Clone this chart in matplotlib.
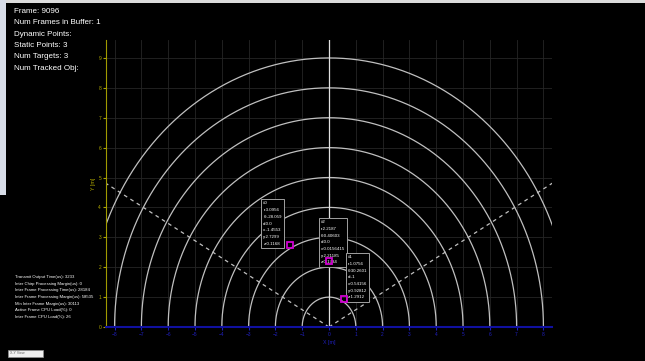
import numpy as np
import matplotlib.pyplot as plt
from matplotlib.patches import Rectangle

W, H = 645, 361

# ranges of the arcs (m) and field-of-view edges (deg)
ranges = [1, 2, 3, 4, 5, 6, 7, 8, 9]
fov_angles = [30, 150]

# tracked targets
target_ids = ["#0", "#2", "#1"]
target_x = [-1.4553, 0.0156415, 0.54156]
target_y = [2.7299, 2.21185, 0.92812]
target_text = [
    "#0\nr:3.0956\nθ:-28.059\nd:0.0\nx:-1.4553\ny:2.7299\nz:0.1168",
    "#2\nr:2.2187\nθ:0.40603\nd:0.0\nx:0.0156415\ny:2.21185\nz:0.1734",
    "#1\nr:1.0756\nθ:30.2601\nd:-1\nx:0.54156\ny:0.92812\nz:1.2912",
]
# upper-left corner of each label box (data coords)
label_pos = [(-2.45, 4.2), (-0.3, 3.57), (0.7, 2.4)]

header_lines = ["Frame: 9096", "Num Frames in Buffer: 1", "Dynamic Points:",
                "Static Points: 3", "Num Targets: 3", "Num Tracked Obj:"]
stats_lines = ["Transmit Output Time(us): 3233",
               "Inter Chirp Processing Margin(us): 0",
               "Inter Frame Processing Time(us): 28184",
               "Inter Frame Processing Margin(us): 58535",
               "Min Inter Frame Margin(us): 30113",
               "Active Frame CPU Load(%): 0",
               "Inter Frame CPU Load(%): 26"]

x_ticks = list(range(-8, 9))
y_ticks = list(range(0, 10))

plt.rcParams['font.family'] = ['Liberation Sans', 'DejaVu Sans']

fig = plt.figure(figsize=(W / 100, H / 100), dpi=100, facecolor="black")

# window chrome: top strip and left strip
fig.patches.append(Rectangle((0, 1 - 3 / H), 1, 3 / H, transform=fig.transFigure,
                             facecolor="#dcdcdc", edgecolor="none", zorder=0))
fig.patches.append(Rectangle((0, 1 - 195 / H), 6 / W, 195 / H, transform=fig.transFigure,
                             facecolor="#d8dde8", edgecolor="none", zorder=0))

ax = fig.add_axes([106 / W, 1 - 327 / H, 446 / W, 287 / H])
ax.set_facecolor("black")
ax.set_xlim(-8.32, 8.32)
ax.set_ylim(0, 9.6)

# grid
for gx in x_ticks:
    ax.axvline(gx, color="#262626", lw=0.6, zorder=1)
for gy in y_ticks[1:]:
    ax.axhline(gy, color="#262626", lw=0.6, zorder=1)

# range arcs
t = np.linspace(0, np.pi, 400)
for r in ranges:
    ax.plot(r * np.cos(t), r * np.sin(t), color="#c0c0c0", lw=0.9, zorder=2)

# boresight and FOV lines
ax.plot([0, 0], [0, 9.6], color="#e0e0e0", lw=0.9, zorder=2)
for a in fov_angles:
    ax.plot([0, 12 * np.cos(np.radians(a))], [0, 12 * np.sin(np.radians(a))],
            color="#c0c0c0", lw=0.9, ls=(0, (3, 3)), zorder=2)

# targets
ax.plot(target_x, target_y, "s", ms=5, mfc="none", mec="#d000d0", mew=1.3, zorder=4)
for txt, (lx, ly) in zip(target_text, label_pos):
    ax.text(lx, ly, txt, color="white", fontsize=3.2, va="top", ha="left",
            linespacing=1.9, zorder=3,
            bbox=dict(boxstyle="square,pad=0.5", fc="black", ec="#a0a0a0", lw=0.7))

# axes styling
for s in ["top", "right"]:
    ax.spines[s].set_visible(False)
ax.spines["left"].set_color("#a09a00")
ax.spines["bottom"].set_color("#1010a0")
ax.spines["bottom"].set_linewidth(1.5)
ax.spines["bottom"].set_zorder(5)
ax.set_xticks(x_ticks)
ax.set_yticks(y_ticks)
ax.tick_params(axis="x", colors="#2020c0", labelsize=3.5, length=2, pad=1.5)
ax.tick_params(axis="y", colors="#b0a800", labelsize=3.5, length=2, pad=1.5)
ax.set_xlabel("X [m]", color="#2020c0", fontsize=3.8, labelpad=2)
ax.set_ylabel("Y [m]", color="#b0a800", fontsize=3.8, labelpad=2)

# overlay text
for i, line in enumerate(header_lines):
    fig.text(14 / W, 1 - (11.5 + i * 11.3) / H, line, color="white",
             fontsize=5.8, va="center", ha="left")
for i, line in enumerate(stats_lines):
    fig.text(15 / W, 1 - (277 + i * 6.7) / H, line, color="white",
             fontsize=3.05, va="center", ha="left")

# view selector
fig.patches.append(Rectangle((8 / W, 1 - 357 / H), 35 / W, 7 / H, transform=fig.transFigure,
                             facecolor="#f0f0f0", edgecolor="#909090", lw=0.5, zorder=3))
fig.text(10 / W, 1 - 353.5 / H, "X-Y View", color="#606060", fontsize=2.5,
         va="center", ha="left", zorder=4)

fig.savefig("out.png", dpi=100, facecolor="black")
